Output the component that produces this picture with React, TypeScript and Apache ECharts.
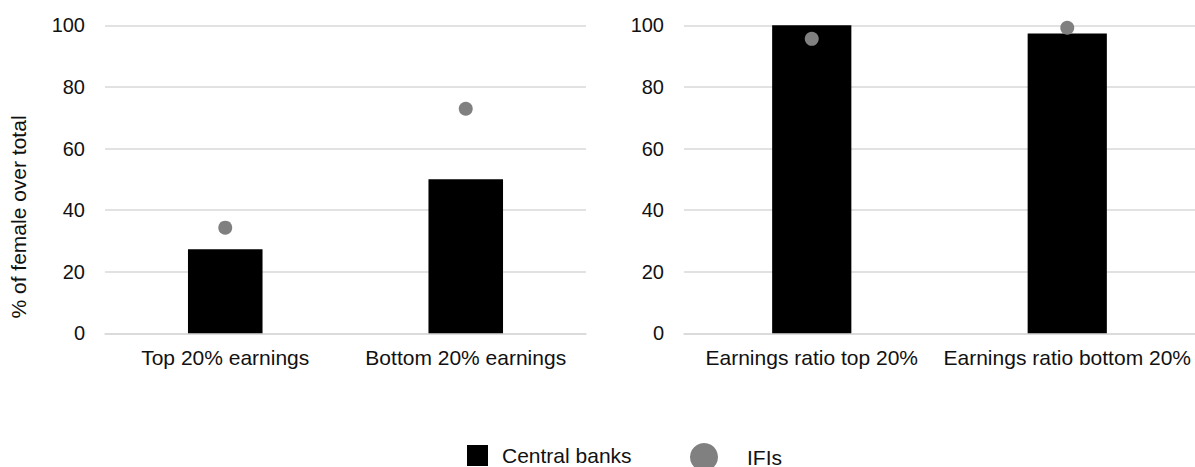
import React, { useEffect, useRef } from "react";
import * as echarts from "echarts";

const leftCategories = ["Top 20% earnings", "Bottom 20% earnings"];
const rightCategories = ["Earnings ratio top 20%", "Earnings ratio bottom 20%"];
const centralBanksLeft = [27.3, 50.0];
const ifisLeft = [34.3, 72.9];
const centralBanksRight = [100, 97.3];
const ifisRight = [95.6, 99.2];
const yTicks = { min: 0, max: 100, interval: 20 };

const FONT = "'Liberation Sans', Arial, sans-serif";
const TEXT = "#111111";
const GRID = "#d9d9d9";
const BAR = "#000000";
const DOT = "#808080";

export default function App() {
  const ref = useRef<HTMLDivElement>(null);
  useEffect(() => {
    if (!ref.current) return;
    const chart = echarts.init(ref.current, undefined, { renderer: "svg" });
    const yAxis = (i: number) => ({
      type: "value",
      gridIndex: i,
      min: yTicks.min,
      max: yTicks.max,
      interval: yTicks.interval,
      axisLine: { show: false },
      axisTick: { show: false },
      axisLabel: { fontSize: 20, color: TEXT, fontFamily: FONT, margin: 20 },
      splitLine: { lineStyle: { color: GRID, width: 1.5 } },
    });
    const xAxis = (i: number, data: string[]) => ({
      type: "category",
      gridIndex: i,
      data,
      axisLine: { show: true, lineStyle: { color: GRID, width: 1.5 } },
      axisTick: { show: false },
      axisLabel: { fontSize: 21, color: TEXT, fontFamily: FONT, margin: 14, interval: 0 },
    });
    chart.setOption({
      animation: false,
      grid: [
        { left: 105, width: 481, top: 25.3, bottom: 133.7 },
        { left: 684, width: 513, top: 25.3, bottom: 133.7 },
      ],
      xAxis: [xAxis(0, leftCategories), xAxis(1, rightCategories)],
      yAxis: [yAxis(0), yAxis(1)],
      legend: [
        {
          data: [{ name: "Central banks", icon: "rect" }],
          left: 462,
          top: 440,
          itemWidth: 21,
          itemHeight: 21,
          textStyle: { fontSize: 21, color: TEXT, fontFamily: FONT, padding: [0, 0, 0, 9] },
        },
        {
          data: [{ name: "IFIs", icon: "circle" }],
          left: 685,
          top: 438,
          itemWidth: 28,
          itemHeight: 28,
          textStyle: { fontSize: 21, color: TEXT, fontFamily: FONT, padding: [0, 0, 0, 24] },
        },
      ],
      graphic: [
        {
          type: "text",
          x: 18,
          y: 217,
          rotation: Math.PI / 2,
          style: {
            text: "% of female over total",
            fontSize: 21,
            fontFamily: FONT,
            fill: TEXT,
            align: "center",
            verticalAlign: "middle",
          },
        },
      ],
      series: [
        {
          name: "Central banks",
          type: "bar",
          xAxisIndex: 0,
          yAxisIndex: 0,
          data: centralBanksLeft,
          barWidth: "31%",
          itemStyle: { color: BAR },
          z: 2,
        },
        {
          name: "IFIs",
          type: "scatter",
          xAxisIndex: 0,
          yAxisIndex: 0,
          data: ifisLeft,
          symbol: "circle",
          symbolSize: 14,
          itemStyle: { color: DOT, opacity: 1 },
          z: 3,
        },
        {
          name: "Central banks",
          type: "bar",
          xAxisIndex: 1,
          yAxisIndex: 1,
          data: centralBanksRight,
          barWidth: "31%",
          itemStyle: { color: BAR },
          z: 2,
        },
        {
          name: "IFIs",
          type: "scatter",
          xAxisIndex: 1,
          yAxisIndex: 1,
          data: ifisRight,
          symbol: "circle",
          symbolSize: 14,
          itemStyle: { color: DOT, opacity: 1 },
          z: 3,
        },
      ],
    });
    return () => chart.dispose();
  }, []);
  return <div ref={ref} style={{ width: 1195, height: 467, position: "absolute", left: 0, top: 0 }} />;
}
